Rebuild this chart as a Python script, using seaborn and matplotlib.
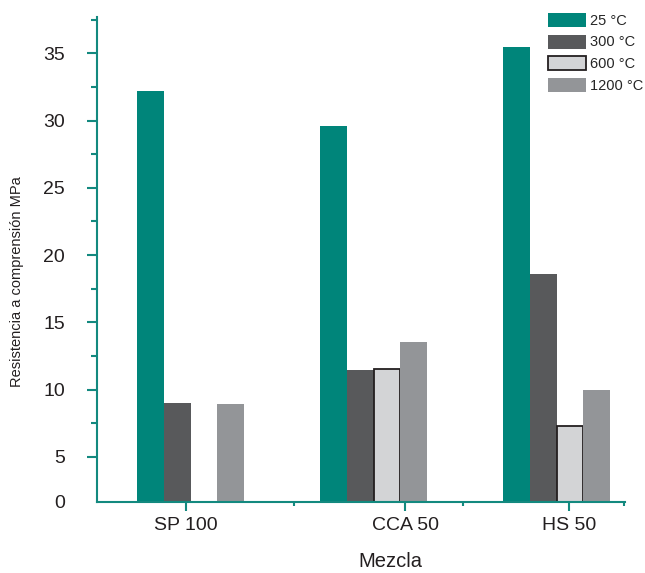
import numpy as np
import pandas as pd
import seaborn as sns
import matplotlib.pyplot as plt

# Datos
mezclas = ["SP 100", "CCA 50", "HS 50"]
temperaturas = ["25 °C", "300 °C", "600 °C", "1200 °C"]
r_25 = [32.2, 29.6, 35.5]
r_300 = [9.0, 11.45, 18.6]
r_600 = [np.nan, 11.5, 7.3]
r_1200 = [8.9, 13.55, 10.0]

colores = ["#00857A", "#58595B", "#D3D4D6", "#939598"]
eje = "#13897F"
texto = "#231F20"

rows = []
for temp, vals in zip(temperaturas, [r_25, r_300, r_600, r_1200]):
    for m, v in zip(mezclas, vals):
        rows.append({"Mezcla": m, "Temperatura": temp, "Resistencia": v})
df = pd.DataFrame(rows)

sns.set_style("ticks")
plt.rcParams["font.family"] = ["Liberation Sans", "DejaVu Sans"]

fig = plt.figure(figsize=(6.45, 5.73), dpi=100)
fig.subplots_adjust(left=97 / 645, right=625 / 645, top=1 - 17 / 573, bottom=1 - 502 / 573)
ax = fig.add_subplot(111)

sns.barplot(data=df, x="Mezcla", y="Resistencia", hue="Temperatura",
            order=mezclas, hue_order=temperaturas, palette=colores, saturation=1,
            width=0.584, gap=0, errorbar=None, linewidth=0, legend=False, ax=ax)

# only the 600 °C bars have an outline
for p in ax.containers[2]:
    p.set_edgecolor(texto)
    p.set_linewidth(1.3)

# axis as in the original: baseline labelled 0, ticks off-centre
y_bottom = 1.65
ax.set_ylim(y_bottom, 37.7)
ax.set_yticks([y_bottom] + list(range(5, 36, 5)),
              labels=["0"] + [str(v) for v in range(5, 36, 5)])
ax.set_yticks(np.arange(7.5, 38, 5), minor=True)
ax.yaxis.get_major_ticks()[0].tick1line.set_visible(False)

ax.set_xlim(-0.511, 2.374)
ax.set_xticks([-0.025, 1.172, 2.068], labels=mezclas)
ax.set_xticks([0.566, 1.489, 2.369], minor=True)

sns.despine(ax=ax)
for s in ["left", "bottom"]:
    ax.spines[s].set_color(eje)
    ax.spines[s].set_linewidth(1.5)

ax.tick_params(axis="both", which="both", color=eje, width=1.5, labelcolor=texto)
ax.tick_params(axis="y", which="major", length=7, pad=16, labelsize=14)
ax.tick_params(axis="y", which="minor", length=4)
ax.tick_params(axis="x", which="major", length=6.5, pad=4, labelsize=14)
ax.tick_params(axis="x", which="minor", length=3)

ax.set_xlabel("Mezcla", fontsize=14.5, color=texto)
ax.xaxis.set_label_coords(0.555, -0.104)
ax.set_ylabel("Resistencia a comprensión MPa", fontsize=10.5, color=texto)
ax.yaxis.set_label_coords(-0.138, 0.454)

ax.legend(handles=ax.containers, labels=temperaturas, loc="upper left",
          bbox_to_anchor=(548 / 645, 1 - 13 / 573), bbox_transform=fig.transFigure,
          frameon=False, fontsize=10.5, handlelength=2.6, handleheight=1.1,
          labelspacing=0.45, handletextpad=0.3, borderpad=0, borderaxespad=0)

plt.savefig("out.png", dpi=100)
